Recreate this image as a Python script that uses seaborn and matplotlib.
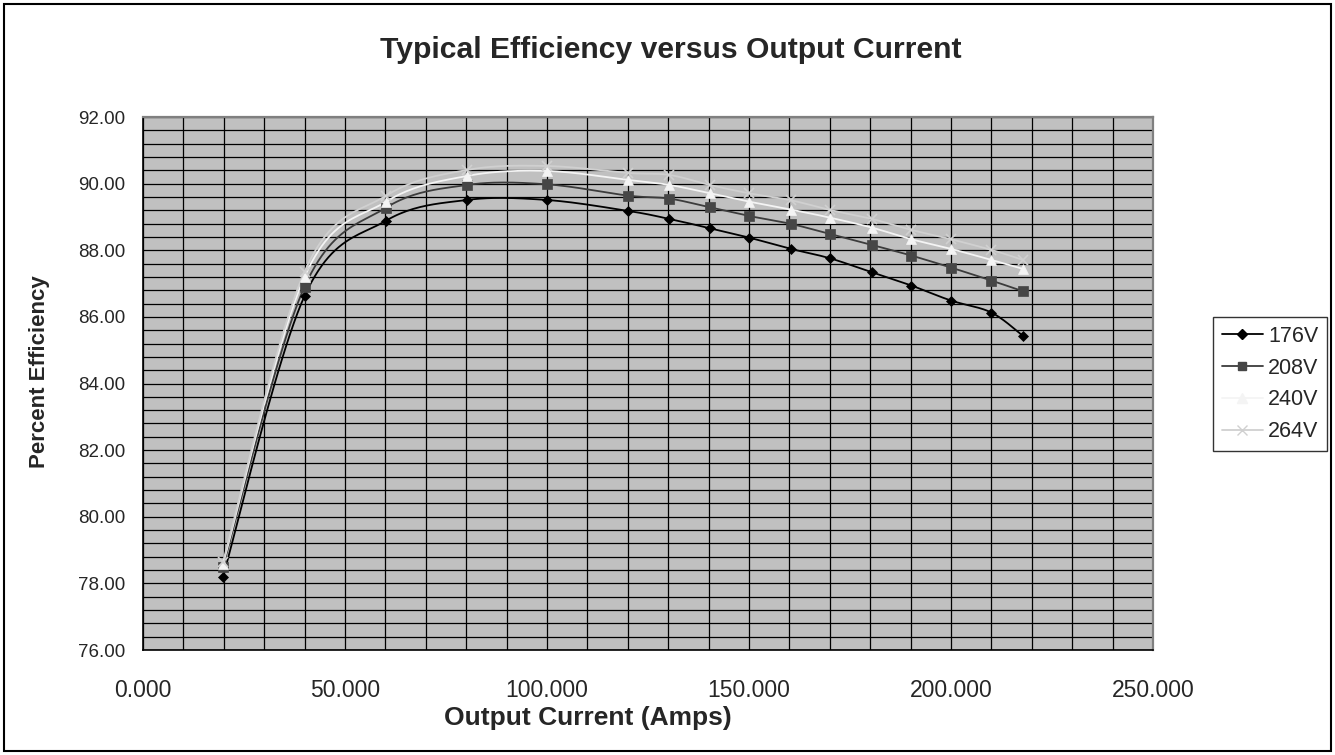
import numpy as np
import pandas as pd
import matplotlib
matplotlib.use("Agg")
import matplotlib.pyplot as plt
from matplotlib.lines import Line2D
from matplotlib.patches import Rectangle
import seaborn as sns

# Output current (A) at each measurement point
current = [19.8, 40.0, 60.2, 80.2, 99.9, 120.1, 130.3, 140.3, 150.0,
           160.4, 170.0, 180.4, 190.2, 200.0, 210.0, 217.8]

# Efficiency (%) for each input voltage
eff_176 = [78.20, 86.63, 88.89, 89.51, 89.51, 89.18, 88.94, 88.66, 88.38,
           88.04, 87.76, 87.34, 86.94, 86.49, 86.13, 85.43]
eff_208 = [78.50, 86.91, 89.28, 89.96, 89.98, 89.64, 89.55, 89.29, 89.03,
           88.79, 88.49, 88.16, 87.84, 87.48, 87.09, 86.77]
eff_240 = [78.58, 87.21, 89.46, 90.23, 90.38, 90.11, 89.96, 89.71, 89.46,
           89.22, 88.98, 88.68, 88.33, 88.04, 87.71, 87.44]
eff_264 = [78.64, 87.36, 89.64, 90.41, 90.53, 90.32, 90.26, 89.96, 89.71,
           89.50, 89.21, 88.94, 88.61, 88.33, 88.01, 87.71]

series_names = ["176V", "208V", "240V", "264V"]
series_values = [eff_176, eff_208, eff_240, eff_264]

x_ticks = [0, 50, 100, 150, 200, 250]
y_ticks = [76, 78, 80, 82, 84, 86, 88, 90, 92]

styles = {
    "176V": dict(line="#000000", marker="D", mfc="#000000", mec="#000000", ms=5.5),
    "208V": dict(line="#3c3c3c", marker="s", mfc="#464646", mec="#464646", ms=6.5),
    "240V": dict(line="#f4f4f4", marker="^", mfc="#f4f4f4", mec="#f4f4f4", ms=7.5),
    "264V": dict(line="#d0d0d0", marker="x", mfc="#d0d0d0", mec="#d0d0d0", ms=7),
}


def smooth_curve(xs, ys, steps=24):
    """Catmull-Rom style cubic Bezier through the points (spreadsheet smoothing)."""
    p = np.column_stack([xs, ys]).astype(float)
    n = len(p)
    out = [p[0]]
    t = np.linspace(0, 1, steps + 1)[1:, None]
    for i in range(n - 1):
        p0 = p[i - 1] if i > 0 else p[i]
        p3 = p[i + 2] if i + 2 < n else p[i + 1]
        c1 = p[i] + (p[i + 1] - p0) / 6.0
        c2 = p[i + 1] - (p3 - p[i]) / 6.0
        seg = ((1 - t) ** 3) * p[i] + 3 * ((1 - t) ** 2) * t * c1 \
            + 3 * (1 - t) * t ** 2 * c2 + t ** 3 * p[i + 1]
        out.extend(seg)
    out = np.array(out)
    return out[:, 0], out[:, 1]


sns.set_style("white")
plt.rcParams["font.family"] = ["Liberation Sans", "DejaVu Sans"]

fig = plt.figure(figsize=(13.35, 7.55), dpi=100)
ax = fig.add_axes([143 / 1335, 1 - 650 / 755, (1153 - 143) / 1335, (650 - 117) / 755])
ax.set_facecolor("#c0c0c0")

handles = []
for name, vals in zip(series_names, series_values):
    st = styles[name]
    sx, sy = smooth_curve(current, vals)
    curve = pd.DataFrame({"x": sx, "y": sy})
    sns.lineplot(data=curve, x="x", y="y", sort=False, ax=ax, color=st["line"],
                 linewidth=1.3, zorder=3, legend=False)
    pts = pd.DataFrame({"x": current, "y": vals})
    ax.plot(pts["x"], pts["y"], linestyle="none", marker=st["marker"],
            markersize=st["ms"], markerfacecolor=st["mfc"],
            markeredgecolor=st["mec"], markeredgewidth=1.2 if st["marker"] == "x" else 0.5,
            zorder=4)
    handles.append(Line2D([], [], color=st["line"], linewidth=1.3,
                          marker=st["marker"], markersize=st["ms"] - 0.5,
                          markerfacecolor=st["mfc"], markeredgecolor=st["mec"],
                          label=name))

ax.set_xlim(0, 250)
ax.set_ylim(76, 92)
ax.set_xticks(x_ticks)
ax.set_yticks(y_ticks)
ax.set_xticks(np.arange(0, 251, 10), minor=True)
ax.set_yticks(np.arange(76, 92.01, 0.4), minor=True)
ax.set_xticklabels([f"{v:.3f}" for v in x_ticks])
ax.set_yticklabels([f"{v:.2f}" for v in y_ticks])
ax.grid(True, which="both", color="#000000", linewidth=0.9, zorder=1)
ax.set_axisbelow(True)
ax.tick_params(axis="both", which="major", direction="out", length=6, width=1,
               color="#000000")
ax.tick_params(axis="x", which="major", labelsize=16.5, pad=15)
ax.tick_params(axis="y", which="major", labelsize=13.5, pad=7)
ax.tick_params(axis="both", which="minor", length=0)

for side in ("left", "bottom"):
    ax.spines[side].set_color("#000000")
    ax.spines[side].set_linewidth(1.2)
for side in ("top", "right"):
    ax.spines[side].set_color("#808080")
    ax.spines[side].set_linewidth(1.6)

ax.set_xlabel("Output Current (Amps)", fontsize=19, fontweight="bold",
              va="center", ha="center")
ax.xaxis.set_label_coords((588 - 143) / 1010, (650 - 718) / 533)
ax.set_ylabel("Percent Efficiency", fontsize=16, fontweight="bold",
              va="center", ha="center")
ax.yaxis.set_label_coords((40 - 143) / 1010, (650 - 372) / 533)
fig.text(671 / 1335, 1 - 50 / 755, "Typical Efficiency versus Output Current",
         ha="center", va="center", fontsize=21.7, fontweight="bold")

leg = fig.legend(handles=handles, loc="center left",
                 bbox_to_anchor=(1213 / 1335, 1 - 384 / 755), frameon=True,
                 fontsize=15.5, handlelength=1.9, handletextpad=0.25,
                 labelspacing=0.5, borderpad=0.4, borderaxespad=0.0,
                 fancybox=False)
leg.get_frame().set_edgecolor("#000000")
leg.get_frame().set_linewidth(1.0)
leg.get_frame().set_facecolor("#ffffff")

fig.patches.append(Rectangle((4 / 1335, 4 / 755), 1 - 8 / 1335, 1 - 8 / 755,
                             transform=fig.transFigure, fill=False,
                             edgecolor="#000000", linewidth=1.5))

fig.savefig("out.png", dpi=100, facecolor="white")
